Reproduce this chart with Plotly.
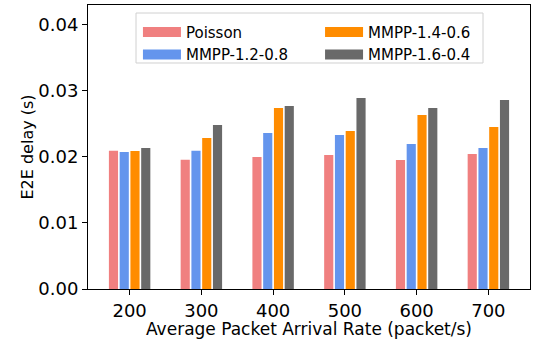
import plotly.graph_objects as go

categories = ["200", "300", "400", "500", "600", "700"]
series_names = ["Poisson", "MMPP-1.2-0.8", "MMPP-1.4-0.6", "MMPP-1.6-0.4"]
poisson = [0.0209, 0.01955, 0.01996, 0.02026, 0.01951, 0.02041]
mmpp_12_08 = [0.0207, 0.0209, 0.02359, 0.02329, 0.02193, 0.02132]
mmpp_14_06 = [0.02087, 0.02283, 0.02737, 0.02389, 0.02631, 0.0245]
mmpp_16_04 = [0.02132, 0.0248, 0.02767, 0.02888, 0.02737, 0.02858]
y_ticks = [0.0, 0.01, 0.02, 0.03, 0.04]
y_tick_labels = ["0.00", "0.01", "0.02", "0.03", "0.04"]

colors = ["#F08080", "#6495ED", "#FF8C00", "#696969"]
values = [poisson, mmpp_12_08, mmpp_14_06, mmpp_16_04]
legend_cols = ["legend", "legend", "legend2", "legend2"]

FONT = "DejaVu Sans"
fig = go.Figure()
xs = list(range(len(categories)))
for name, vals, col in zip(series_names, values, colors):
    fig.add_trace(go.Bar(x=xs, y=vals, name=name, marker=dict(color=col, line=dict(width=0)),
                         showlegend=False))
for name, col, lg in zip(series_names, colors, legend_cols):
    fig.add_trace(go.Scatter(x=[None], y=[None], mode="lines", name=name,
                             line=dict(color=col, width=10), legend=lg))

legend_style = dict(orientation="v", yanchor="top", xanchor="left", y=0.962,
                    bgcolor="rgba(0,0,0,0)", borderwidth=0,
                    font=dict(size=15, family=FONT), itemwidth=38, tracegroupgap=0)

fig.update_layout(
    width=536, height=339,
    margin=dict(l=88, r=6, t=5, b=50, autoexpand=False),
    paper_bgcolor="white", plot_bgcolor="white",
    barmode="group", bargap=0.4, bargroupgap=0.15,
    font=dict(family=FONT, color="black"),
    legend=dict(x=0.113, **legend_style),
    legend2=dict(x=0.525, **legend_style),
    shapes=[dict(type="rect", xref="paper", yref="paper", x0=0.1086, x1=0.8937,
                 y0=0.7958, y1=0.9718, line=dict(color="#d0d0d0", width=1),
                 fillcolor="white", layer="below")],
    xaxis=dict(range=[-0.58, 5.58], tickvals=xs, ticktext=categories, automargin=False,
               ticks="outside", ticklen=5, tickcolor="black",
               showline=True, linecolor="black", linewidth=1, mirror=True,
               showgrid=False, zeroline=False, tickfont=dict(size=18),
               title=dict(text="Average Packet Arrival Rate (packet/s)", font=dict(size=17), standoff=4)),
    yaxis=dict(range=[0, 0.04295], tickvals=y_ticks, ticktext=y_tick_labels, automargin=False,
               ticks="outside", ticklen=5, tickcolor="black",
               showline=True, linecolor="black", linewidth=1, mirror=True,
               showgrid=False, zeroline=False, tickfont=dict(size=18),
               title=dict(text="E2E delay (s)", font=dict(size=16), standoff=0)),
)

fig.write_html("out.html", config={"displayModeBar": False},
               post_script="document.body.style.margin='0';")
